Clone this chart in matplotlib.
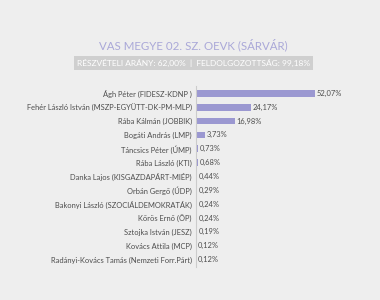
import matplotlib
matplotlib.use("Agg")
import matplotlib.pyplot as plt

candidates = [
    "Ágh Péter (FIDESZ-KDNP )",
    "Fehér László István (MSZP-EGYÜTT-DK-PM-MLP)",
    "Rába Kálmán (JOBBIK)",
    "Bogáti András (LMP)",
    "Táncsics Péter (ÚMP)",
    "Rába László (KTI)",
    "Danka Lajos (KISGAZDAPÁRT-MIÉP)",
    "Orbán Gergő (ÚDP)",
    "Bakonyi László (SZOCIÁLDEMOKRATÁK)",
    "Kőrös Ernő (ÖP)",
    "Sztojka István (JESZ)",
    "Kovács Attila (MCP)",
    "Radányi-Kovács Tamás (Nemzeti Forr.Párt)",
]
shares = [52.07, 24.17, 16.98, 3.73, 0.73, 0.68, 0.44, 0.29, 0.24, 0.24, 0.19, 0.12, 0.12]
value_labels = ["52,07%", "24,17%", "16,98%", "3,73%", "0,73%", "0,68%", "0,44%",
                "0,29%", "0,24%", "0,24%", "0,19%", "0,12%", "0,12%"]

title = "VAS MEGYE 02. SZ. OEVK (SÁRVÁR)"
subtitle = "RÉSZVÉTELI ARÁNY: 62,00%  |  FELDOLGOZOTTSÁG: 99,18%"

bg = "#eeeeee"
bar_color = "#9b98d1"
text_color = "#4d4d4d"
plt.rcParams["font.family"] = ["Lato", "DejaVu Sans"]

W, H = 380, 300
fig = plt.figure(figsize=(W / 100, H / 100), dpi=100, facecolor=bg)
ax = fig.add_axes([196 / W, 1 - 266.5 / H, 174 / W, 180 / H])
ax.set_facecolor(bg)

ypos = list(range(len(candidates)))
ax.barh(ypos, shares, height=0.48, color=bar_color)
for y, v, lab in zip(ypos, shares, value_labels):
    ax.text(v + 0.8, y, lab, va="center", ha="left", fontsize=5.4, color=text_color)

ax.set_ylim(len(candidates) - 0.5, -0.5)
ax.set_xlim(0, 76.1)
ax.set_yticks(ypos)
ax.set_yticklabels(candidates, fontsize=5.4, color=text_color)
ax.tick_params(axis="y", length=0, pad=3)
ax.set_xticks([])
for s in ["top", "right", "bottom"]:
    ax.spines[s].set_visible(False)
ax.spines["left"].set_color("#cccccc")
ax.spines["left"].set_linewidth(0.8)

fig.text(193 / W, 1 - 45 / H, title, ha="center", va="center", fontsize=8.3, color="#aaa8d8")
fig.text(193.5 / W, 1 - 63 / H, subtitle, ha="center", va="center", fontsize=6.0, color="white",
         bbox=dict(boxstyle="square,pad=0.35", facecolor="#cfcfcf", edgecolor="none"))

fig.savefig("out.png", dpi=100, facecolor=bg)
